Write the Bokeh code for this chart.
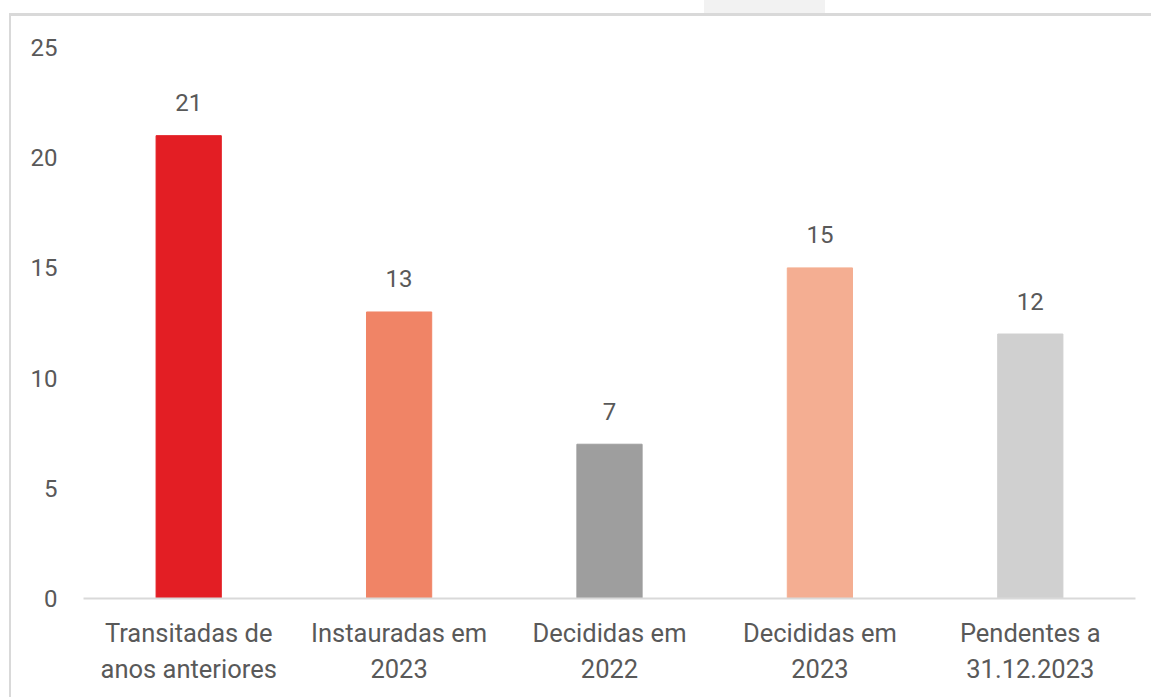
from bokeh.plotting import figure
from bokeh.models import ColumnDataSource, Range1d, Div, FixedTicker, LinearAxis
from bokeh.layouts import column
from bokeh.core.properties import value
from bokeh.embed import file_html
from bokeh.resources import INLINE

categories = ["Transitadas de anos anteriores", "Instauradas em 2023", "Decididas em 2022",
              "Decididas em 2023", "Pendentes a 31.12.2023"]
label_line1 = ["Transitadas de", "Instauradas em", "Decididas em", "Decididas em", "Pendentes a"]
label_line2 = ["anos anteriores", "2023", "2022", "2023", "31.12.2023"]
values = [21, 13, 7, 15, 12]
colors = ["#E31E24", "#F08466", "#9E9E9E", "#F4AE92", "#D0D0D0"]
y_ticks = [0, 5, 10, 15, 20, 25]

FONT = "Roboto"
TXT = "#595959"
FS = "24px"
FSX = "25.5px"

n = len(categories)
# each category occupies one unit slot; its centre is index + 0.5
centres = [i + 0.5 for i in range(n)]

src = ColumnDataSource(dict(x=centres, cat=categories, val=values, col=colors,
                            lab=[str(v) for v in values]))

p = figure(width=1142, height=684, x_range=Range1d(0, n),
           y_range=Range1d(0, 25), output_backend="svg", toolbar_location=None,
           min_border_left=72, min_border_right=18, min_border_top=31, min_border_bottom=102)
p.outline_line_color = None
p.grid.grid_line_color = None

p.vbar(x="x", top="val", width=0.31, color="col", source=src)
p.text(x="x", y="val", text="lab", source=src, y_offset=-33,
       text_align="center", text_baseline="alphabetic",
       text_font=value(FONT), text_font_size=FS, text_color=TXT)

ya = p.yaxis[0]
ya.ticker = FixedTicker(ticks=y_ticks)
ya.axis_line_color = None
ya.major_tick_line_color = None
ya.minor_tick_line_color = None
ya.major_tick_out = 0
ya.major_label_standoff = 26
ya.major_label_text_font = FONT
ya.major_label_text_font_size = FS
ya.major_label_text_color = TXT

def style_axis(ax, lines, standoff, line_color):
    ax.ticker = FixedTicker(ticks=centres)
    ax.major_label_overrides = {c: t for c, t in zip(centres, lines)}
    ax.axis_line_color = line_color
    ax.axis_line_width = 2
    ax.major_tick_line_color = None
    ax.minor_tick_line_color = None
    ax.major_tick_out = 0
    ax.major_tick_in = 0
    ax.major_label_standoff = standoff
    ax.major_label_text_font = FONT
    ax.major_label_text_font_size = FSX
    ax.major_label_text_color = TXT

style_axis(p.xaxis[0], label_line1, 19, "#D9D9D9")
ax2 = LinearAxis()
style_axis(ax2, label_line2, 3, None)
p.add_layout(ax2, "below")

p.margin = (0, 0, 0, 9)
p.styles = {"border-top": "3px solid #D9D9D9", "border-left": "2px solid #D9D9D9"}

top = Div(width=1151, height=13, margin=(0, 0, 0, 0),
          text='<div style="position:absolute;left:704px;top:0px;width:121px;height:13px;background:#F2F2F2"></div>')

layout = column(top, p, spacing=0)
open("out.html", "w").write(file_html(layout, INLINE))
